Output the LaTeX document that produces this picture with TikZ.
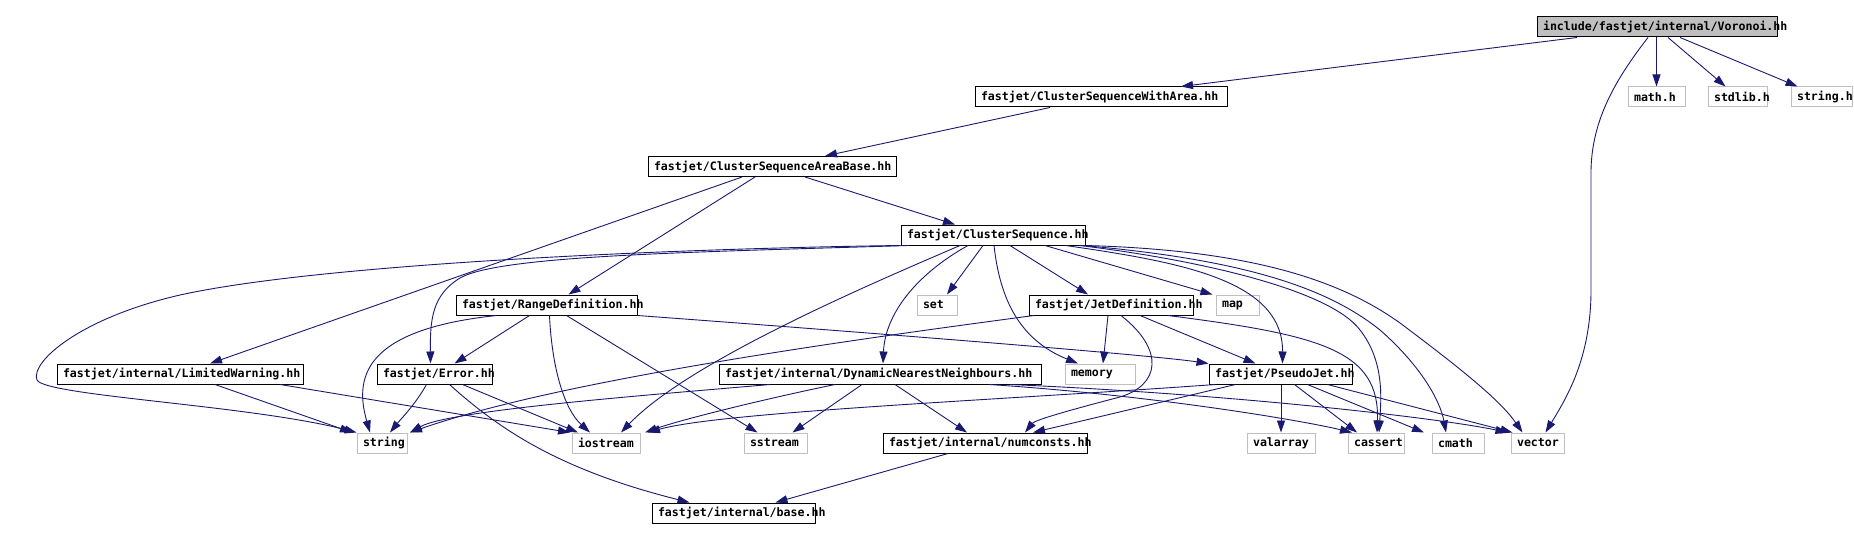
\documentclass[tikz,border=0pt]{standalone}
\usepackage{fontspec}
\newfontfamily\dgmono{DejaVu Sans Mono}[HyphenChar=None]
\usetikzlibrary{arrows.meta}
\definecolor{dgedge}{HTML}{191970}
\definecolor{dggray}{HTML}{BFBFBF}

\begin{document}
\begin{tikzpicture}[
  x=1pt, y=-1pt,
  every node/.style={font=\fontsize{11.6pt}{13pt}\dgmono\bfseries},
  filebox/.style={rectangle, draw=black, line width=1pt, fill=white, text width=#1, align=left, inner xsep=6pt, inner ysep=0pt, minimum height=20pt},
  sysbox/.style={filebox=#1, draw=dggray},
  rootbox/.style={filebox=#1, fill=dggray},
  dep/.style={dgedge, line width=0.9pt, -{Triangle[length=12pt,width=8pt]}},
]
\useasboundingbox (0,0) rectangle (1854,540);

% Voronoi.hh and what it includes directly
\node[rootbox=228pt] (voronoi) at (1657,27) {include/fastjet/internal/Voronoi.hh};
\node[sysbox=45pt] (mathh) at (1656.5,97) {math.h};
\node[sysbox=47pt] (stdlibh) at (1737.5,97) {stdlib.h};
\node[sysbox=49pt] (stringh) at (1821.5,97) {string.h};
\node[filebox=240pt] (cswa) at (1101,97) {fastjet/ClusterSequenceWithArea.hh};
\node[filebox=236pt] (csab) at (772,166.5) {fastjet/ClusterSequenceAreaBase.hh};
\node[filebox=172pt] (cs) at (993,235) {fastjet/ClusterSequence.hh};

% second row
\node[sysbox=28pt] (set) at (937,305) {set};
\node[filebox=169pt] (rangedef) at (546.5,305) {fastjet/RangeDefinition.hh};
\node[filebox=152pt] (jetdef) at (1111,305) {fastjet/JetDefinition.hh};
\node[sysbox=31pt] (map) at (1237.5,305) {map};

% third row
\node[filebox=234pt] (limwarn) at (180,374) {fastjet/internal/LimitedWarning.hh};
\node[filebox=103pt] (error) at (434.5,374) {fastjet/Error.hh};
\node[filebox=310pt] (dnn) at (880,374) {fastjet/internal/DynamicNearestNeighbours.hh};
\node[sysbox=58pt] (memory) at (1100,374) {memory};
\node[filebox=131pt] (pseudojet) at (1280.5,374) {fastjet/PseudoJet.hh};

% bottom rows
\node[sysbox=38pt] (string) at (382,443) {string};
\node[sysbox=56pt] (iostream) at (606,443) {iostream};
\node[sysbox=51pt] (sstream) at (775.5,443) {sstream};
\node[filebox=192pt] (numconsts) at (985,443) {fastjet/internal/numconsts.hh};
\node[sysbox=56pt] (valarray) at (1281,443) {valarray};
\node[sysbox=44pt] (cassert) at (1376,443) {cassert};
\node[sysbox=40pt] (cmath) at (1458,443) {cmath};
\node[sysbox=41pt] (vector) at (1537.5,443) {vector};
\node[filebox=151pt] (base) at (733.5,513) {fastjet/internal/base.hh};

% Voronoi.hh
\draw[dep] ([xshift=-80pt]voronoi.south) -- ([xshift=80pt]cswa.north);
\draw[dep] (mathh.north |- voronoi.south) -- (mathh.north);
\draw[dep] ([xshift=11pt]voronoi.south) -- ([xshift=-12pt]stdlibh.north);
\draw[dep] ([xshift=23pt]voronoi.south) -- ([xshift=-24pt]stringh.north);
\draw[dep] ([xshift=-9pt]voronoi.south) .. controls (1615,80) and (1592,120) .. (1591,170) -- (1591,290) .. controls (1591,360) and (1565,400) .. ([xshift=8pt]vector.north);

% area classes
\draw[dep] ([xshift=-51pt]cswa.south) -- ([xshift=53pt]csab.north);
\draw[dep] ([xshift=33pt]csab.south) -- ([xshift=-38pt]cs.north);
\draw[dep] ([xshift=-30pt]csab.south) -- ([xshift=30pt]limwarn.north);
\draw[dep] ([xshift=-17pt]csab.south) -- ([xshift=22pt]rangedef.north);

% ClusterSequence.hh
\draw[dep] (cs.south west) .. controls (700,248) and (330,262) .. (180,295) .. controls (80,318) and (30,362) .. (37,380) .. controls (45,396) and (250,405) .. (string.north west);
\draw[dep] ([xshift=8pt]cs.south west) .. controls (700,252) and (500,255) .. (460,278) .. controls (432,295) and (430,320) .. ([xshift=-4pt]error.north);
\draw[dep] ([xshift=-33pt]cs.south) .. controls (880,280) and (690,360) .. ([xshift=15pt]iostream.north);
\draw[dep] ([xshift=-25pt]cs.south) .. controls (915,275) and (885,315) .. ([xshift=3pt]dnn.north);
\draw[dep] ([xshift=-10pt]cs.south) -- ([xshift=10pt]set.north);
\draw[dep] ([xshift=1pt]cs.south) .. controls (1000,300) and (1020,340) .. ([xshift=-22pt]memory.north);
\draw[dep] ([xshift=17pt]cs.south) -- ([xshift=-23pt]jetdef.north);
\draw[dep] ([xshift=52pt]cs.south) -- ([xshift=-25pt]map.north);
\draw[dep] ([xshift=-20pt]cs.south east) .. controls (1180,262) and (1283,280) .. ([xshift=2pt]pseudojet.north);
\draw[dep] ([xshift=-6pt]cs.south east) .. controls (1200,260) and (1330,290) .. (1360,330) .. controls (1385,362) and (1381,400) .. ([xshift=3pt]cassert.north);
\draw[dep] ([xshift=-3pt]cs.south east) .. controls (1250,260) and (1330,290) .. (1380,330) .. controls (1420,365) and (1440,400) .. ([xshift=-12pt]cmath.north);
\draw[dep] (cs.south east) .. controls (1250,250) and (1340,280) .. (1400,323) .. controls (1460,368) and (1500,400) .. ([xshift=-15pt]vector.north);

% RangeDefinition.hh
\draw[dep] ([xshift=-17pt]rangedef.south) -- ([xshift=20pt]error.north);
\draw[dep] ([xshift=-50pt]rangedef.south) .. controls (360,330) and (355,380) .. ([xshift=-12pt]string.north);
\draw[dep] ([xshift=3pt]rangedef.south) .. controls (552,370) and (565,410) .. ([xshift=-16pt]iostream.north);
\draw[dep] ([xshift=20pt]rangedef.south) -- ([xshift=-18pt]sstream.north);
\draw[dep] (rangedef.south east) .. controls (900,335) and (1150,355) .. (pseudojet.north west);

% LimitedWarning.hh and Error.hh
\draw[dep] ([xshift=35pt]limwarn.south) -- ([xshift=-30pt]string.north);
\draw[dep] ([xshift=100pt]limwarn.south) -- ([xshift=-36pt]iostream.north);
\draw[dep] ([xshift=-8pt]error.south) .. controls (415,405) and (400,420) .. ([xshift=8pt]string.north);
\draw[dep] ([xshift=28pt]error.south) -- ([xshift=-28pt]iostream.north);
\draw[dep] ([xshift=15pt]error.south) .. controls (500,430) and (560,470) .. ([xshift=-44pt]base.north);

% DynamicNearestNeighbours.hh
\draw[dep] ([xshift=-110pt]dnn.south) .. controls (650,395) and (450,410) .. ([xshift=28pt]string.north);
\draw[dep] ([xshift=-45pt]dnn.south) .. controls (760,400) and (680,420) .. ([xshift=39pt]iostream.north);
\draw[dep] ([xshift=-18pt]dnn.south) -- ([xshift=17pt]sstream.north);
\draw[dep] ([xshift=15pt]dnn.south) -- ([xshift=-18pt]numconsts.north);
\draw[dep] ([xshift=109pt]dnn.south) .. controls (1150,395) and (1300,420) .. ([xshift=-24pt]cassert.north);
\draw[dep] ([xshift=130pt]dnn.south) .. controls (1250,395) and (1450,420) .. ([xshift=-30pt]vector.north);

% JetDefinition.hh
\draw[dep] ([xshift=-77pt]jetdef.south) .. controls (850,340) and (560,380) .. ([xshift=28pt]string.north);
\draw[dep] ([xshift=-3pt]jetdef.south) -- ([xshift=3pt]memory.north);
\draw[dep] ([xshift=10pt]jetdef.south) .. controls (1165,350) and (1160,385) .. (1120,397) .. controls (1070,410) and (1035,420) .. ([xshift=40pt]numconsts.north);
\draw[dep] ([xshift=29pt]jetdef.south) -- ([xshift=-25pt]pseudojet.north);
\draw[dep] ([xshift=57pt]jetdef.south) .. controls (1320,335) and (1380,350) .. ([xshift=1pt]cassert.north);

% PseudoJet.hh
\draw[dep] ([xshift=-65pt]pseudojet.south) .. controls (1000,400) and (720,412) .. ([xshift=42pt]iostream.north);
\draw[dep] ([xshift=-45pt]pseudojet.south) -- ([xshift=48pt]numconsts.north);
\draw[dep] (valarray.north |- pseudojet.south) -- (valarray.north);
\draw[dep] ([xshift=14pt]pseudojet.south) -- ([xshift=-19pt]cassert.north);
\draw[dep] ([xshift=27pt]pseudojet.south) -- ([xshift=-34pt]cmath.north);
\draw[dep] ([xshift=47pt]pseudojet.south) -- ([xshift=-25pt]vector.north);

% numconsts.hh
\draw[dep] ([xshift=-37pt]numconsts.south) -- ([xshift=42pt]base.north);

\end{tikzpicture}
\end{document}
